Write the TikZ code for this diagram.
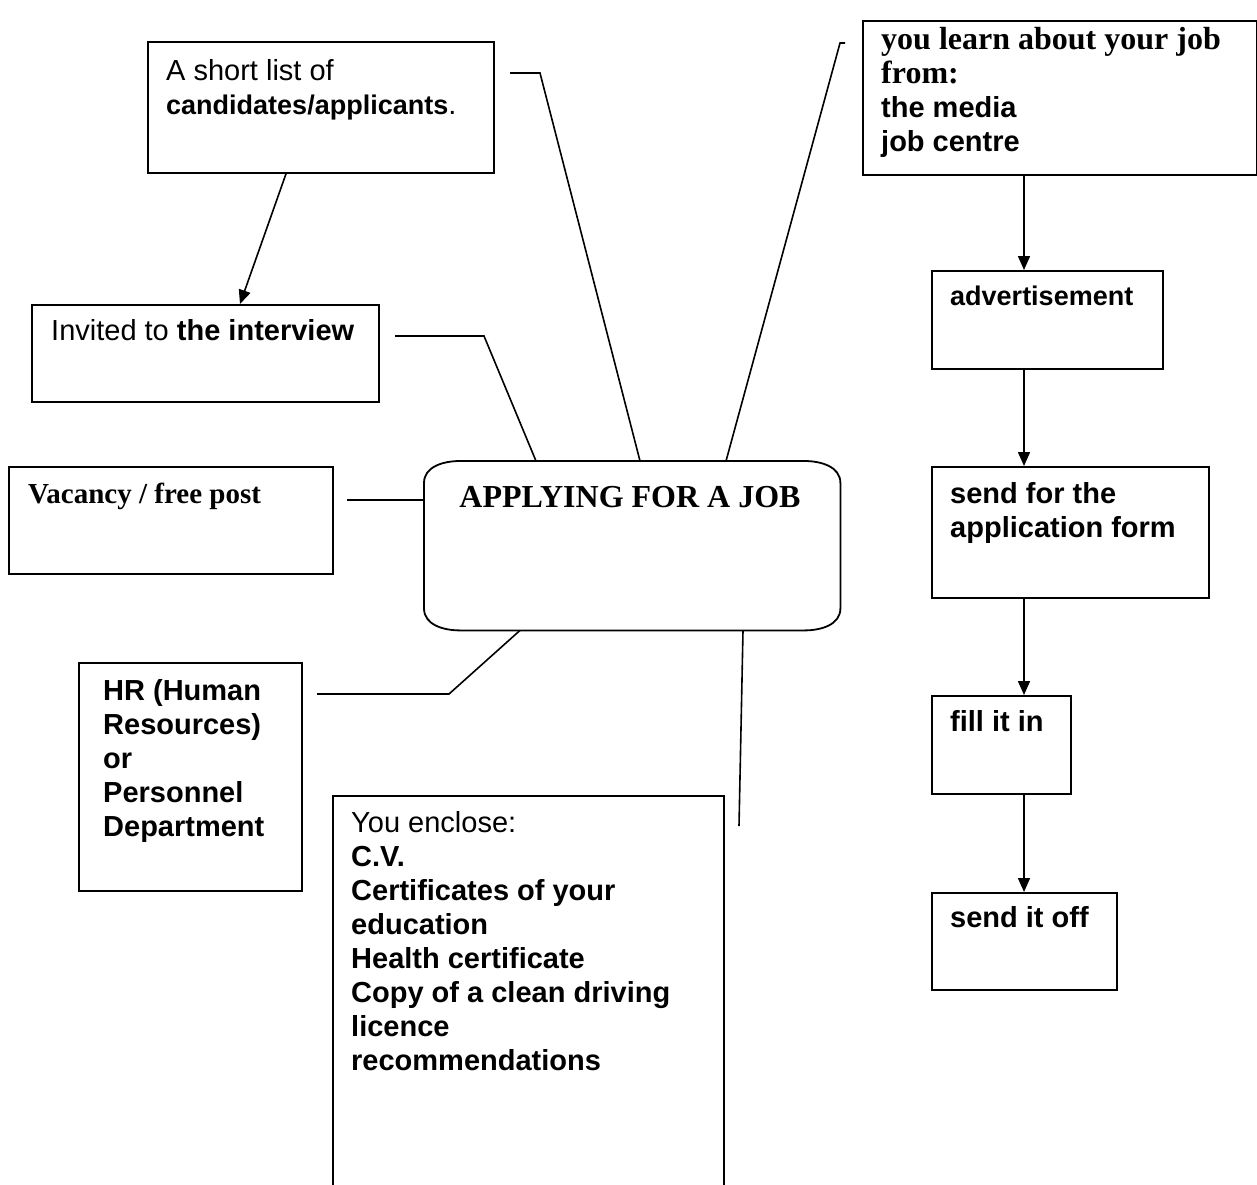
\documentclass[tikz,border=0pt]{standalone}
\usepackage{fontspec}
\setmainfont{Liberation Sans}
\newfontfamily\tnr{Liberation Serif}
\usetikzlibrary{arrows.meta,calc}
\begin{document}
\begin{tikzpicture}[x=1pt,y=-1pt,
  box/.style={draw, rectangle, anchor=north west, inner sep=0pt, line width=1.8pt},
  txt/.style={anchor=base west, inner sep=0pt, align=left, font=\fontsize{29}{34}\selectfont},
  link/.style={line width=1.6pt},
  arr/.style={line width=1.6pt, -{Triangle[length=14pt,width=12pt]}}]
\useasboundingbox (0,0) rectangle (1257,1184);

% boxes
\node[box, minimum width=346pt, minimum height=131pt] (sl) at (147,41) {};
\node[box, minimum width=394pt, minimum height=154pt] (learn) at (862,20) {};
\node[box, minimum width=231pt, minimum height=98pt] (adv) at (931,270) {};
\node[box, minimum width=277pt, minimum height=131pt] (sendfor) at (931,466) {};
\node[box, minimum width=139pt, minimum height=98pt] (fill) at (931,695) {};
\node[box, minimum width=185pt, minimum height=97pt] (off) at (931,892) {};
\node[box, minimum width=347pt, minimum height=97pt] (inv) at (31,304) {};
\node[box, minimum width=324pt, minimum height=107pt] (vac) at (8,466) {};
\node[box, minimum width=223pt, minimum height=228pt] (hr) at (78,662) {};
\node[box, minimum width=391pt, minimum height=420pt] (enc) at (332,795) {};

% central rounded box
\node[rectangle, anchor=north west, inner sep=0pt, minimum width=416pt, minimum height=169pt] (c) at (424,461) {};
\draw[line width=1.8pt]
  ([yshift=-22pt]c.north west) to[out=90,in=180] ([xshift=36pt]c.north west)
  -- ([xshift=-36pt]c.north east) to[out=0,in=90] ([yshift=-22pt]c.north east)
  -- ([yshift=22pt]c.south east) to[out=-90,in=0] ([xshift=-36pt]c.south east)
  -- ([xshift=36pt]c.south west) to[out=180,in=-90] ([yshift=22pt]c.south west)
  -- cycle;
\node[anchor=base, inner sep=0pt, font=\tnr\bfseries\fontsize{32}{34}\selectfont] (ct) at (630,507) {APPLYING FOR A JOB};

% texts (anchor = baseline of the last line)
\node[txt] (slt) at (166,114) {A short list of\\{\fontsize{27}{34}\selectfont\bfseries candidates/applicants}.};
\node[txt, font=\fontsize{29}{34}\selectfont\bfseries] (learnt) at (881,151)
  {{\tnr\fontsize{32}{34}\selectfont you learn about your job}\\{\tnr\fontsize{32}{34}\selectfont from:}\\the media\\job centre};
\node[txt, font=\fontsize{27}{34}\selectfont\bfseries] (advt) at (950,305) {advertisement};
\node[txt, font=\fontsize{29}{34}\selectfont\bfseries] (sendfort) at (950,537) {send for the\\application form};
\node[txt, font=\fontsize{29}{34}\selectfont\bfseries] (fillt) at (950,731) {fill it in};
\node[txt, font=\fontsize{29}{34}\selectfont\bfseries] (offt) at (950,927) {send it off};
\node[txt] (invt) at (51,340) {Invited to \textbf{the interview}};
\node[txt, font=\tnr\bfseries\fontsize{29}{34}\selectfont] (vact) at (28,503) {Vacancy / free post};
\node[txt, font=\fontsize{29}{34}\selectfont\bfseries] (hrt) at (103,836) {HR (Human\\Resources)\\or\\Personnel\\Department};
\node[txt] (enct) at (351,1070) {You enclose:\\\textbf{C.V.}\\\textbf{Certificates of your}\\\textbf{education}\\\textbf{Health certificate}\\\textbf{Copy of a clean driving}\\\textbf{licence}\\\textbf{recommendations}};

% connector bend points
\coordinate (a1) at (510,73);
\coordinate (a2) at (540,73);
\coordinate (b1) at (845,43);
\coordinate (b2) at (840,43);
\coordinate (i1) at (395,336);
\coordinate (i2) at (484,336);
\coordinate (v1) at (347,500);
\coordinate (h1) at (317,694);
\coordinate (h2) at (449,694);
\coordinate (e1) at (739,826);

\draw[link] (a1) -- (a2) -- (640,0 |- c.north);
\draw[link] (b1) -- (b2) -- (726,0 |- c.north);
\draw[link] (i1) -- (i2) -- (536,0 |- c.north);
\draw[link] (v1) -- (c.west |- v1);
\draw[link] (h1) -- (h2) -- (520,0 |- c.south);
\draw[link] (743,0 |- c.south) -- (e1);

% arrows
\draw[arr] (286,0 |- sl.south) -- (240,0 |- inv.north);
\draw[arr] (1024,0 |- learn.south) -- (1024,0 |- adv.north);
\draw[arr] (1024,0 |- adv.south) -- (1024,0 |- sendfor.north);
\draw[arr] (1024,0 |- sendfor.south) -- (1024,0 |- fill.north);
\draw[arr] (1024,0 |- fill.south) -- (1024,0 |- off.north);
\end{tikzpicture}
\end{document}
